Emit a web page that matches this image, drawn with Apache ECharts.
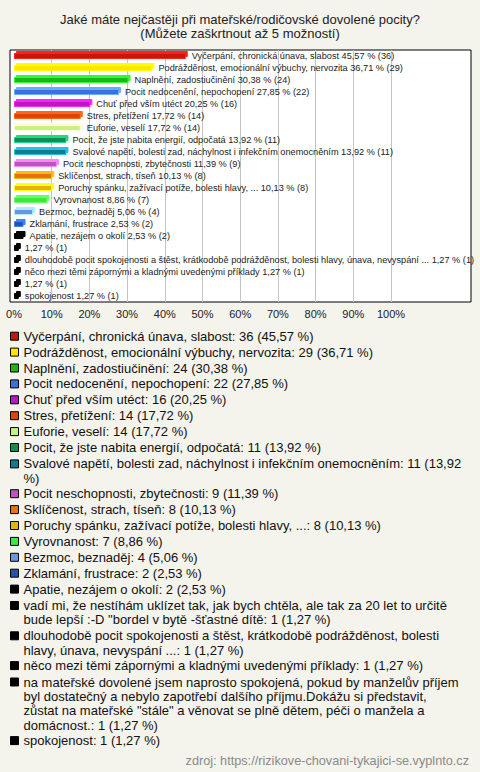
<!DOCTYPE html>
<html>
<head>
<meta charset="utf-8">
<script src="https://cdn.jsdelivr.net/npm/echarts@6/dist/echarts.min.js"></script>
<style>
html,body{margin:0;padding:0;background:#f4f3ec;}
#chart{width:480px;height:772px;}
</style>
</head>
<body>
<div id="chart"></div>
<script>
const categories = [
  'Vyčerpání, chronická únava, slabost',
  'Podrážděnost, emocionální výbuchy, nervozita',
  'Naplnění, zadostiučinění',
  'Pocit nedocenění, nepochopení',
  'Chuť před vším utéct',
  'Stres, přetížení',
  'Euforie, veselí',
  'Pocit, že jste nabita energií, odpočatá',
  'Svalové napětí, bolesti zad, náchylnost i infekčním onemocněním',
  'Pocit neschopnosti, zbytečnosti',
  'Sklíčenost, strach, tíseň',
  'Poruchy spánku, zažívací potíže, bolesti hlavy, ...',
  'Vyrovnanost',
  'Bezmoc, beznaděj',
  'Zklamání, frustrace',
  'Apatie, nezájem o okolí',
  'vadí mi, že nestíhám uklízet tak, jak bych chtěla, ale tak za 20 let to určitě bude lepší :-D "bordel v bytě -šťastné dítě',
  'dlouhodobě pocit spokojenosti a štěst, krátkodobě podrážděnost, bolesti hlavy, únava, nevyspání ...',
  'něco mezi těmi zápornými a kladnými uvedenými příklady',
  'na mateřské dovolené jsem naprosto spokojená, pokud by manželův příjem byl dostatečný a nebylo zapotřebí dalšího příjmu.Dokážu si představit, zůstat na mateřské "stále" a věnovat se plně dětem, péči o manžela a domácnost.',
  'spokojenost'
];
// names shown next to bars (the long answers are omitted in the bar labels)
const barLabelNames = categories.map((c, i) => (i === 16 || i === 19) ? '' : c);
const counts = [36, 29, 24, 22, 16, 14, 14, 11, 11, 9, 8, 8, 7, 4, 2, 2, 1, 1, 1, 1, 1];
const percents = [45.57, 36.71, 30.38, 27.85, 20.25, 17.72, 17.72, 13.92, 13.92, 11.39, 10.13, 10.13, 8.86, 5.06, 2.53, 2.53, 1.27, 1.27, 1.27, 1.27, 1.27];
const axisTicks = [0, 10, 20, 30, 40, 50, 60, 70, 80, 90, 100];

const palette = ['#c8150c', '#ffe600', '#1cb51c', '#3d6ee8', '#c014c8', '#e2420e', '#c6f284', '#128a52', '#147a90', '#c052c2', '#e8720e', '#e8b20e', '#3ee83e', '#6a94e4', '#2452b4', '#000000', '#000000', '#000000', '#000000', '#000000', '#000000'];

const fmt = v => v.toFixed(2).replace('.', ',');

// ---- legend list layout ----
const LEG_FONT = 13, LEG_LH = 14.4, LEG_GAP = 1.5, LEG_TOP = 329, LEG_WIDTH = 452;
// word counts after which the reference breaks the line (only where measuring differs)
const forcedBreaks = { 19: [10, 19, 32] };
const measureCtx = document.createElement('canvas').getContext('2d');
measureCtx.font = LEG_FONT + 'px "Liberation Sans"';
function wrap(text, maxW, breaks) {
  const words = text.split(' ');
  const lines = [];
  let cur = '';
  words.forEach((w, k) => {
    const t = cur ? cur + ' ' + w : w;
    if (breaks) {
      cur = t;
      if (breaks.indexOf(k + 1) >= 0) { lines.push(cur); cur = ''; }
    } else if (cur && measureCtx.measureText(t).width > maxW) { lines.push(cur); cur = w; }
    else cur = t;
  });
  if (cur) lines.push(cur);
  return lines;
}

const series = categories.map((name, i) => {
  const dark = palette[i] === '#000000' ? '#000000' : echarts.color.lift(palette[i], -0.6);
  return {
    name: name,
    type: 'bar',
    xAxisIndex: 1,
    yAxisIndex: 1,
    stack: 'all',
    barWidth: 6,
    data: categories.map((c, j) => j === i ? percents[i] : '-'),
    itemStyle: {
      color: palette[i],
      borderColor: dark,
      borderWidth: 1,
      shadowColor: dark,
      shadowOffsetX: 2,
      shadowOffsetY: -2,
      shadowBlur: 0
    },
    label: {
      show: true,
      position: 'right',
      distance: 6,
      fontSize: 9.2,
      fontFamily: 'Liberation Sans',
      color: '#222',
      formatter: () => (barLabelNames[i] ? barLabelNames[i] + ' ' : '') + fmt(percents[i]) + ' % (' + counts[i] + ')'
    },
    emphasis: { disabled: true },
    silent: true
  };
});

// one legend block per answer, so that wrapped entries keep their marker on the first line
const legends = [];
let legTop = LEG_TOP;
categories.forEach((name, i) => {
  const full = name + ': ' + counts[i] + ' (' + fmt(percents[i]) + ' %)';
  const lines = wrap(full, LEG_WIDTH, forcedBreaks[i]);
  const n = lines.length;
  const h = n * LEG_LH;
  const icon = n === 1 ? 'rect'
    : 'path://M0,0L0,0M0,' + h + 'L0,' + h + 'M0,' + (LEG_LH / 2 - 4) + 'h8v8h-8z';
  legends.push({
    type: 'plain',
    orient: 'vertical',
    left: 10,
    top: legTop,
    padding: 0,
    itemWidth: 8,
    itemHeight: n === 1 ? 8 : h,
    symbolKeepAspect: false,
    icon: icon,
    selectedMode: false,
    itemStyle: { borderColor: '#000', borderWidth: 1 },
    textStyle: { fontSize: LEG_FONT, color: '#111', fontFamily: 'Liberation Sans', lineHeight: LEG_LH },
    data: [name],
    formatter: () => lines.join('\n')
  });
  legTop += h + LEG_GAP;
});

const chart = echarts.init(document.getElementById('chart'), null, { renderer: 'svg' });
chart.setOption({
  backgroundColor: '#f4f3ec',
  animation: false,
  title: [
    {
      text: 'Jaké máte nejčastěji při mateřské/rodičovské dovolené pocity?\n(Můžete zaškrtnout až 5 možností)',
      left: 'center',
      top: 12,
      padding: 0,
      textStyle: { fontSize: 13, fontWeight: 'normal', color: '#222', fontFamily: 'Liberation Sans', lineHeight: 14.5 }
    },
    {
      text: 'zdroj: https://rizikove-chovani-tykajici-se.vyplnto.cz',
      right: 11,
      bottom: 5,
      padding: 0,
      textStyle: { fontSize: 12.7, fontWeight: 'normal', color: '#8a8a8a', fontFamily: 'Liberation Sans' }
    }
  ],
  grid: [
    { left: 10, top: 50, width: 461, height: 252, show: true, backgroundColor: '#ffffff', borderColor: '#000', borderWidth: 1, z: -1 },
    { left: 14, top: 50, width: 377, height: 252 }
  ],
  xAxis: [
    { gridIndex: 0, type: 'value', show: false },
    {
      gridIndex: 1, type: 'value', min: axisTicks[0], max: axisTicks[axisTicks.length - 1], interval: 10,
      axisLine: { show: false }, axisTick: { show: false },
      splitLine: { show: true, showMinLine: false, lineStyle: { color: '#c4c4c4', width: 1 } },
      axisLabel: { formatter: '{value}%', fontSize: 11, color: '#222', fontFamily: 'Liberation Sans', margin: 6 }
    }
  ],
  yAxis: [
    { gridIndex: 0, type: 'value', show: false },
    {
      gridIndex: 1, type: 'category', data: categories, inverse: true,
      axisLine: { show: false }, axisTick: { show: false }, axisLabel: { show: false }, splitLine: { show: false }
    }
  ],
  legend: legends,
  series: series
});
</script>
</body>
</html>
